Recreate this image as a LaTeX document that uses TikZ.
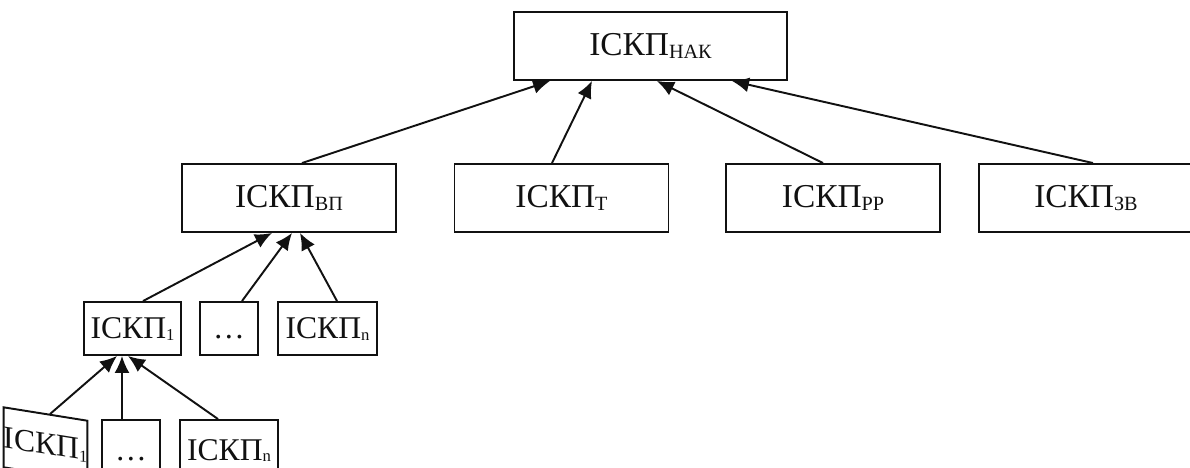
\documentclass[tikz,border=0pt]{standalone}
\usepackage{fontspec}
\setmainfont{Liberation Serif}
\usetikzlibrary{arrows.meta,calc}
\definecolor{skline}{HTML}{111111}
\newcommand{\isk}[1]{ІСКП\raisebox{-1.5pt}{\fontsize{11.5}{12}\selectfont #1}}
\newcommand{\isks}[1]{ІСКП\raisebox{-1pt}{\fontsize{9.5}{10}\selectfont #1}}
\tikzstyle{iskbox}=[draw=skline,line width=1.1pt,text=skline,inner sep=0pt,align=center,
  font=\fontsize{19}{22}\selectfont]
\tikzstyle{topbox}=[iskbox,minimum width=4.28cm,minimum height=1.36cm]
\tikzstyle{lowbox}=[iskbox,minimum height=1.06cm,font=\fontsize{18}{21}\selectfont,
  text height=12.5pt,text depth=1pt]
\tikzstyle{iskarr}=[draw=skline,line width=1.1pt,-{Latex[length=0.34cm,width=0.3cm]}]

\begin{document}
\begin{tikzpicture}[x=0.02cm,y=-0.02cm]
    \useasboundingbox (0,0) rectangle (1190,467);
    % upper levels
    \node[topbox,minimum width=5.46cm] (nak) at (650.5,46) {\isk{НАК}};
    \node[topbox] (vp) at (289,198) {\isk{ВП}};
    \node[topbox] (t) at (561.5,198) {\isk{Т}};
    \node[topbox] (pp) at (833,198) {\isk{РР}};
    \node[topbox] (zv) at (1086,198) {\isk{ЗВ}};
    % third level
    \node[lowbox,minimum width=1.94cm] (a1) at (132.5,328.5) {\isks{1}};
    \node[lowbox,minimum width=1.16cm] (ad) at (229,328.5) {\dots};
    \node[lowbox,minimum width=1.98cm] (an) at (327.5,328.5) {\isks{n}};
    % fourth level
    \begin{scope}[shift={(45.5,444)},yslant=-0.16]
      \node[lowbox,minimum width=1.46cm,minimum height=1.2cm,transform shape] (b1) at (0,0) {\isks{1}};
    \end{scope}
    \node[lowbox,minimum width=1.16cm,minimum height=1.2cm] (bd) at (131,450) {\dots};
    \node[lowbox,minimum width=1.96cm,minimum height=1.2cm] (bn) at (229,450) {\isks{n}};
    % links
    \draw[iskarr] ($(vp.north)+(13,0)$) -- ($(nak.south)+(-100.5,0)$);
    \draw[iskarr] ($(t.north)+(-9.5,0)$) -- ($(nak.south)+(-58.5,0)$);
    \draw[iskarr] ($(pp.north)+(-10,0)$) -- ($(nak.south)+(6.5,0)$);
    \draw[iskarr] ($(zv.north)+(7,0)$) -- ($(nak.south)+(81.5,0)$);
    \draw[iskarr] ($(a1.north)+(10.5,0)$) -- ($(vp.south)+(-17,0)$);
    \draw[iskarr] ($(ad.north)+(13,0)$) -- ($(vp.south)+(3,0)$);
    \draw[iskarr] ($(an.north)+(9.5,0)$) -- ($(vp.south)+(11,0)$);
    \draw[iskarr] ($(b1.north)+(4.5,1)$) -- ($(a1.south)+(-15.5,0)$);
    \draw[iskarr] ($(bd.north)+(-9,0)$) -- ($(a1.south)+(-10.5,0)$);
    \draw[iskarr] ($(bn.north)+(-11,0)$) -- ($(a1.south)+(-4.5,0)$);
  \end{tikzpicture}
\end{document}
